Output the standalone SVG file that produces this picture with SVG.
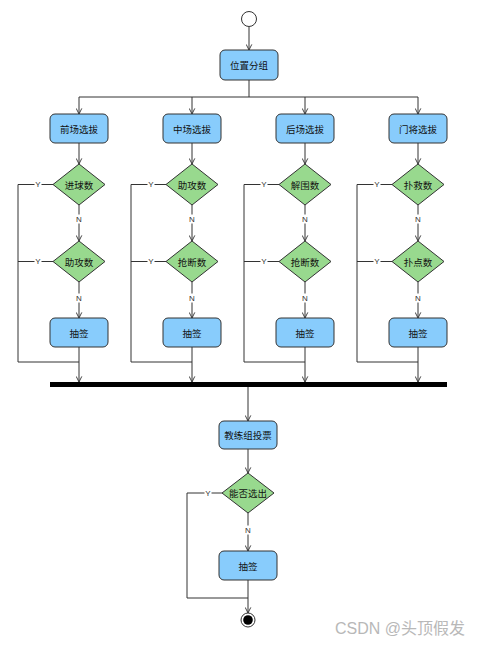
<svg xmlns="http://www.w3.org/2000/svg" width="483" height="647" viewBox="0 0 483 647">
<style>
.box{fill:#88ccfc;stroke:#333;stroke-width:1}
.dia{fill:#98d98e;stroke:#333;stroke-width:1}
.t{font-family:"Noto Sans CJK SC","Liberation Sans",sans-serif;font-size:9.5px;fill:#111;text-anchor:middle;dominant-baseline:central}
.l{font-family:"Liberation Sans",sans-serif;font-size:8px;fill:#333;text-anchor:middle;dominant-baseline:central}
.bg{fill:#fff}
.c{fill:none;stroke:#333;stroke-width:1}
.ca{fill:none;stroke:#333;stroke-width:1;marker-end:url(#arr)}
</style>
<defs>
<marker id="arr" viewBox="0 0 10 10" refX="9" refY="5" markerWidth="7" markerHeight="7" orient="auto" markerUnits="userSpaceOnUse">
<path d="M1,1 L9,5 L1,9" fill="none" stroke="#333" stroke-width="1.3"/>
</marker>
</defs>
<rect width="483" height="647" fill="#fff"/>
<g id="connectors">
<path class="ca" d="M249,27 V50"/>
<path class="c" d="M249,80 V97 M79,97 H418"/>
<path class="ca" d="M79,97 V114"/>
<path class="ca" d="M192,97 V114"/>
<path class="ca" d="M305,97 V114"/>
<path class="ca" d="M418,97 V114"/>
<path class="ca" d="M79,143 V164"/>
<path class="ca" d="M79,205 V241"/>
<path class="ca" d="M79,282 V318"/>
<path class="ca" d="M79,347 V382"/>
<path class="c" d="M53,184.5 H18 V362 H79 M53,261.5 H18"/>
<path class="ca" d="M192,143 V164"/>
<path class="ca" d="M192,205 V241"/>
<path class="ca" d="M192,282 V318"/>
<path class="ca" d="M192,347 V382"/>
<path class="c" d="M166,184.5 H131 V362 H192 M166,261.5 H131"/>
<path class="ca" d="M305,143 V164"/>
<path class="ca" d="M305,205 V241"/>
<path class="ca" d="M305,282 V318"/>
<path class="ca" d="M305,347 V382"/>
<path class="c" d="M279,184.5 H244 V362 H305 M279,261.5 H244"/>
<path class="ca" d="M418,143 V164"/>
<path class="ca" d="M418,205 V241"/>
<path class="ca" d="M418,282 V318"/>
<path class="ca" d="M418,347 V382"/>
<path class="c" d="M392,184.5 H357 V362 H418 M392,261.5 H357"/>
<path class="ca" d="M248,387 V421"/>
<path class="ca" d="M248,449 V473"/>
<path class="ca" d="M248,513 V551"/>
<path class="ca" d="M248,580 V613"/>
<path class="c" d="M222,493 H187 V598 H248"/>
<g class="bg">
<rect x="34.5" y="180" width="7" height="9"/><rect x="34.5" y="257" width="7" height="9"/>
<rect x="75" y="214.5" width="8" height="9"/><rect x="75" y="293.5" width="8" height="9"/>
<rect x="147.5" y="180" width="7" height="9"/><rect x="147.5" y="257" width="7" height="9"/>
<rect x="188" y="214.5" width="8" height="9"/><rect x="188" y="293.5" width="8" height="9"/>
<rect x="260.5" y="180" width="7" height="9"/><rect x="260.5" y="257" width="7" height="9"/>
<rect x="301" y="214.5" width="8" height="9"/><rect x="301" y="293.5" width="8" height="9"/>
<rect x="373.5" y="180" width="7" height="9"/><rect x="373.5" y="257" width="7" height="9"/>
<rect x="414" y="214.5" width="8" height="9"/><rect x="414" y="293.5" width="8" height="9"/>
<rect x="204.5" y="488.5" width="7" height="9"/><rect x="244" y="525.5" width="8" height="9"/>
</g>
<text class="l" x="38" y="184.5">Y</text>
<text class="l" x="38" y="261.5">Y</text>
<text class="l" x="79" y="219">N</text>
<text class="l" x="79" y="298">N</text>
<text class="l" x="151" y="184.5">Y</text>
<text class="l" x="151" y="261.5">Y</text>
<text class="l" x="192" y="219">N</text>
<text class="l" x="192" y="298">N</text>
<text class="l" x="264" y="184.5">Y</text>
<text class="l" x="264" y="261.5">Y</text>
<text class="l" x="305" y="219">N</text>
<text class="l" x="305" y="298">N</text>
<text class="l" x="377" y="184.5">Y</text>
<text class="l" x="377" y="261.5">Y</text>
<text class="l" x="418" y="219">N</text>
<text class="l" x="418" y="298">N</text>
<text class="l" x="208" y="493">Y</text>
<text class="l" x="248" y="530">N</text>
</g>
<g id="start"><circle cx="249" cy="19" r="7.5" fill="#fff" stroke="#333"/></g>
<g id="group"><rect class="box" x="220" y="50" width="58" height="30" rx="5"/><text class="t" x="249" y="65">位置分组</text></g>
<g id="fw"><rect class="box" x="50" y="114" width="58" height="29" rx="5"/><text class="t" x="79" y="128.5">前场选拔</text></g>
<g id="mf"><rect class="box" x="163" y="114" width="58" height="29" rx="5"/><text class="t" x="192" y="128.5">中场选拔</text></g>
<g id="df"><rect class="box" x="276" y="114" width="58" height="29" rx="5"/><text class="t" x="305" y="128.5">后场选拔</text></g>
<g id="gk"><rect class="box" x="389" y="114" width="58" height="29" rx="5"/><text class="t" x="418" y="128.5">门将选拔</text></g>
<g id="fw-d1"><path class="dia" d="M79,164 L105,184.5 L79,205 L53,184.5 Z"/><text class="t" x="79" y="184.5">进球数</text></g>
<g id="fw-d2"><path class="dia" d="M79,241 L105,261.5 L79,282 L53,261.5 Z"/><text class="t" x="79" y="261.5">助攻数</text></g>
<g id="mf-d1"><path class="dia" d="M192,164 L218,184.5 L192,205 L166,184.5 Z"/><text class="t" x="192" y="184.5">助攻数</text></g>
<g id="mf-d2"><path class="dia" d="M192,241 L218,261.5 L192,282 L166,261.5 Z"/><text class="t" x="192" y="261.5">抢断数</text></g>
<g id="df-d1"><path class="dia" d="M305,164 L331,184.5 L305,205 L279,184.5 Z"/><text class="t" x="305" y="184.5">解围数</text></g>
<g id="df-d2"><path class="dia" d="M305,241 L331,261.5 L305,282 L279,261.5 Z"/><text class="t" x="305" y="261.5">抢断数</text></g>
<g id="gk-d1"><path class="dia" d="M418,164 L444,184.5 L418,205 L392,184.5 Z"/><text class="t" x="418" y="184.5">扑救数</text></g>
<g id="gk-d2"><path class="dia" d="M418,241 L444,261.5 L418,282 L392,261.5 Z"/><text class="t" x="418" y="261.5">扑点数</text></g>
<g id="fw-draw"><rect class="box" x="50" y="318" width="58" height="29" rx="5"/><text class="t" x="79" y="332.5">抽签</text></g>
<g id="mf-draw"><rect class="box" x="163" y="318" width="58" height="29" rx="5"/><text class="t" x="192" y="332.5">抽签</text></g>
<g id="df-draw"><rect class="box" x="276" y="318" width="58" height="29" rx="5"/><text class="t" x="305" y="332.5">抽签</text></g>
<g id="gk-draw"><rect class="box" x="389" y="318" width="58" height="29" rx="5"/><text class="t" x="418" y="332.5">抽签</text></g>
<g id="join"><rect x="50" y="382" width="397" height="5" fill="#000"/></g>
<g id="vote"><rect class="box" x="219" y="421" width="58" height="28" rx="5"/><text class="t" x="248" y="435">教练组投票</text></g>
<g id="decide"><path class="dia" d="M248,473 L274,493 L248,513 L222,493 Z"/><text class="t" x="248" y="493">能否选出</text></g>
<g id="final-draw"><rect class="box" x="219" y="551" width="58" height="29" rx="5"/><text class="t" x="248" y="565.5">抽签</text></g>
<g id="end"><circle cx="248" cy="620" r="7" fill="#fff" stroke="#333"/><circle cx="248" cy="620" r="4.8" fill="#000"/></g>
<text x="400" y="634" font-family="'Liberation Sans','Noto Sans CJK SC',sans-serif" font-size="16" fill="#b8b8b8" text-anchor="middle">CSDN @头顶假发</text>
</svg>
